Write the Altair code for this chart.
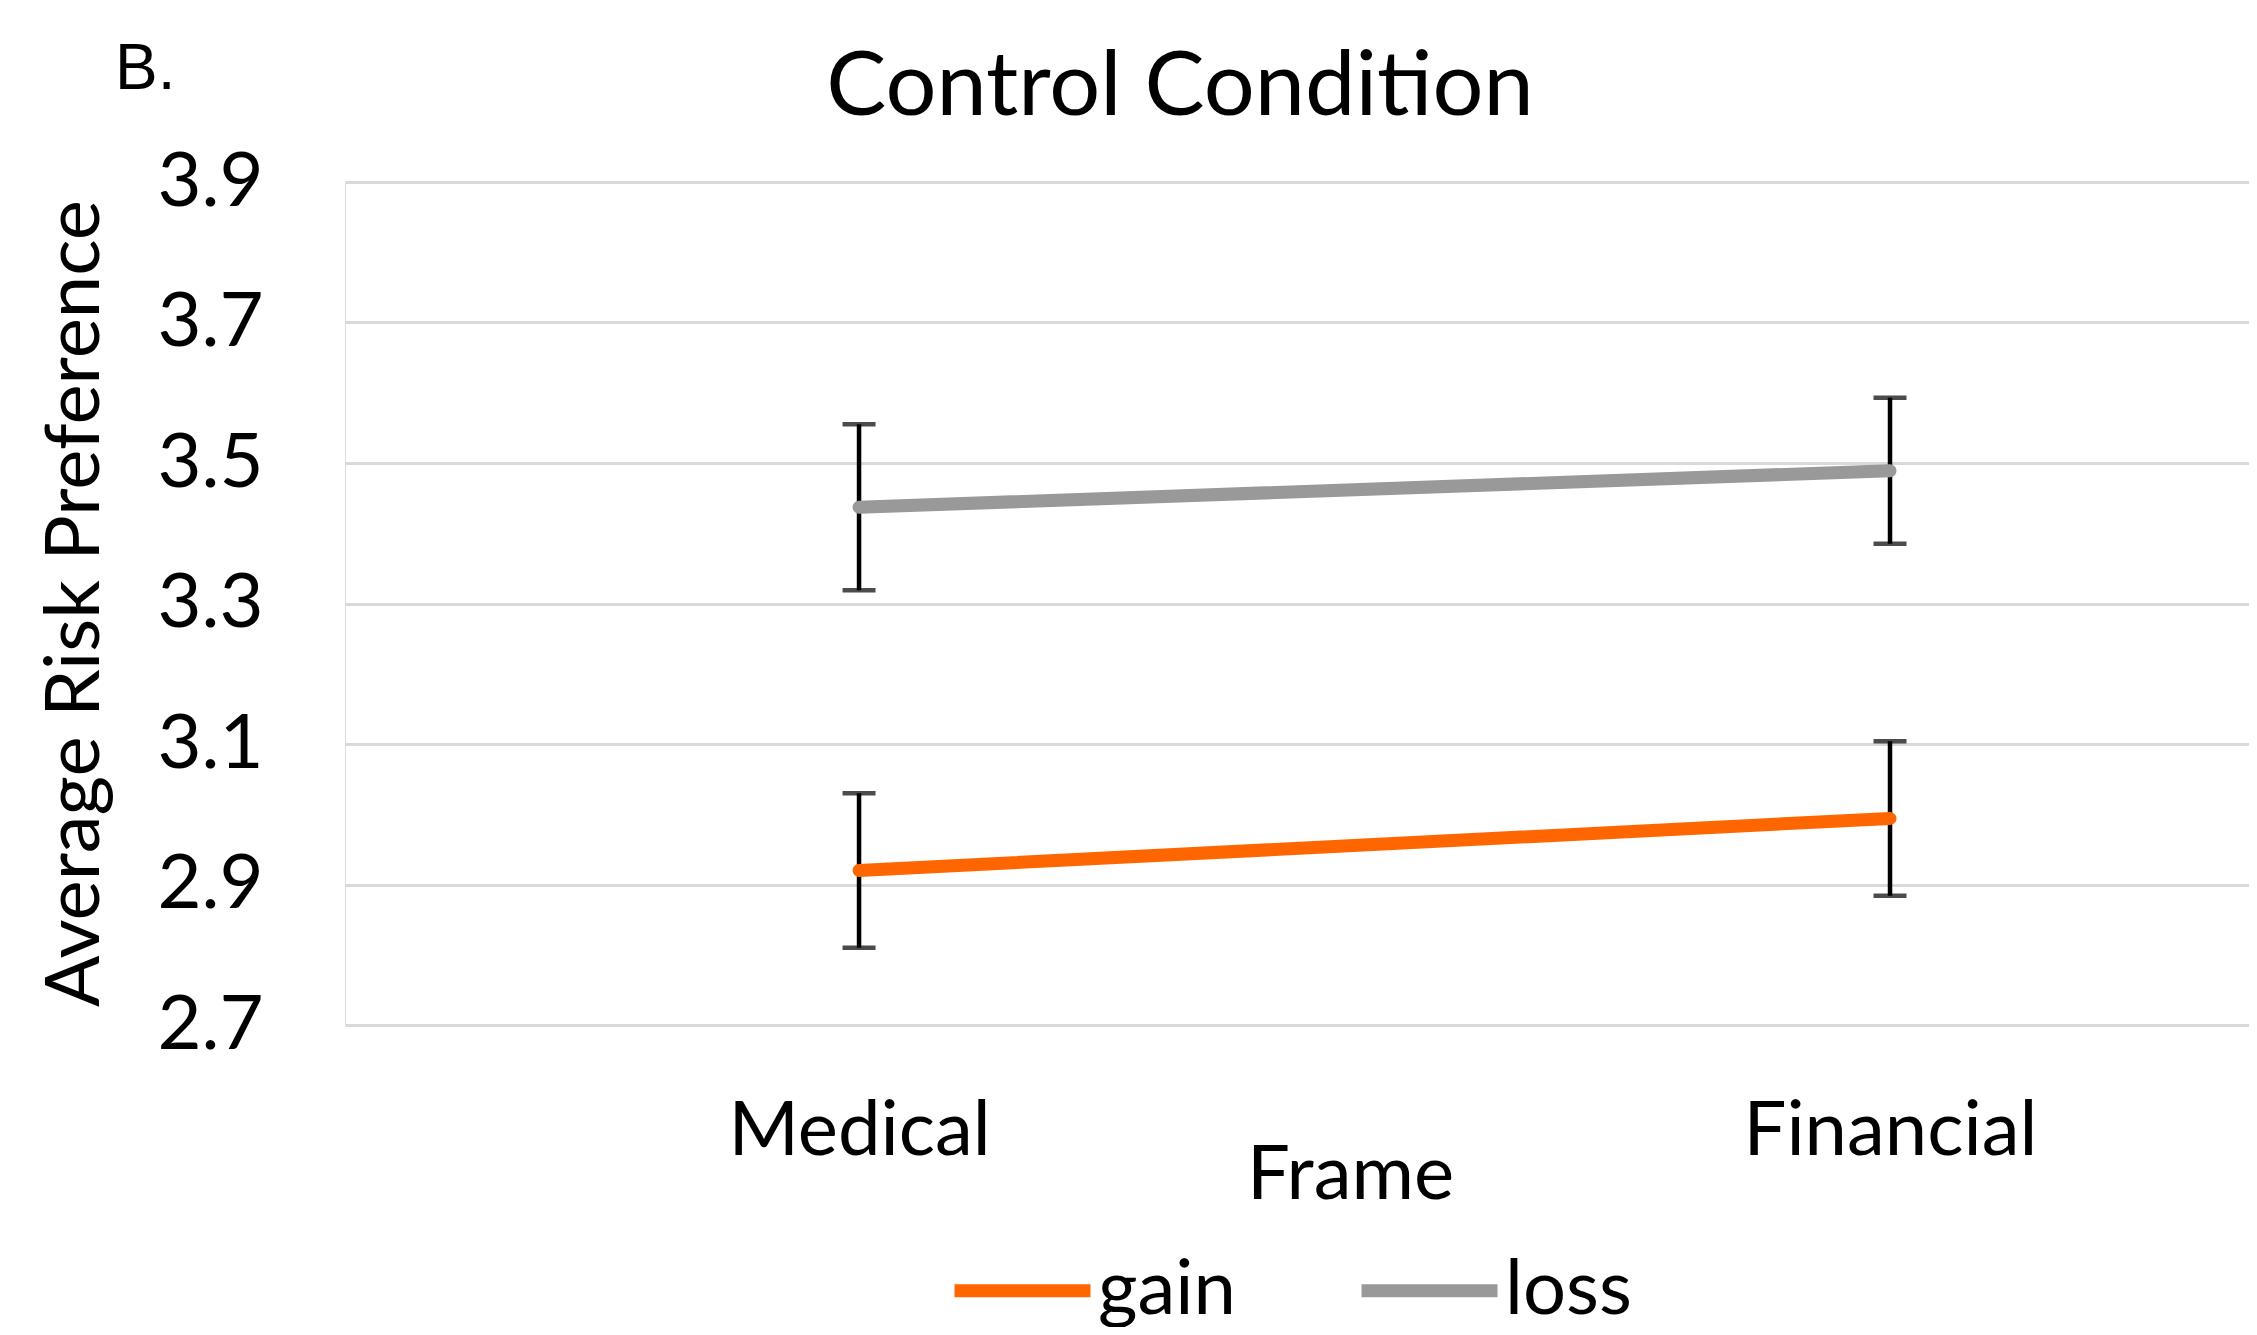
import altair as alt
import pandas as pd

# ---- data ----
frames = ["Medical", "Financial"]
conditions = ["gain", "loss"]
gain_means = [2.92, 2.994]
gain_errs = [0.11, 0.11]
loss_means = [3.437, 3.489]
loss_errs = [0.118, 0.104]
y_ticks = [2.7, 2.9, 3.1, 3.3, 3.5, 3.7, 3.9]
colors = ["#FF6600", "#999999"]
title_text = ["Control Condition"]
panel_text = ["B."]

rows = []
for cond, means, errs in [("gain", gain_means, gain_errs), ("loss", loss_means, loss_errs)]:
    for f, m, e in zip(frames, means, errs):
        rows.append({"Frame": f, "Condition": cond, "mean": m, "lo": m - e, "hi": m + e})
df = pd.DataFrame(rows)

FONT = "Lato"
FS = 76
YTITLE = "Average Risk Preference"

x_enc = alt.X(
    "Frame:N",
    sort=frames,
    scale=alt.Scale(type="point", padding=0.4234, align=0.5888),
    axis=alt.Axis(
        title="Frame", labelFont=FONT, labelFontSize=FS, labelColor="black",
        labelPadding=129, labelBaseline="alphabetic", labelAngle=0, labelLimit=500,
        ticks=False, tickSize=0, domain=False, grid=False,
        titleFont=FONT, titleFontSize=FS, titleFontWeight="normal", titleColor="black",
        titleX=1005, titleY=173, titleBaseline="alphabetic", titleAlign="center",
    ),
)
y_scale = alt.Scale(domain=[2.7, 3.9], nice=False, zero=False)
y_axis = alt.Axis(
    values=y_ticks, format=".1f", labelFont=FONT, labelFontSize=FS, labelColor="black",
    labelPadding=82, ticks=False, tickSize=0, domain=False, grid=True,
    gridColor="#D9D9D9", gridWidth=3,
    titleFont=FONT, titleFontSize=FS, titleFontWeight="normal", titleColor="black",
    titleX=-270, titleY=421, titleAlign="center", titleBaseline="middle", titleLimit=1200,
)

base = alt.Chart(df)

err_rule = base.mark_rule(color="black", strokeWidth=4.5).encode(
    x=x_enc,
    y=alt.Y("lo:Q", scale=y_scale, axis=y_axis, title=YTITLE),
    y2="hi:Q",
)
cap_lo = base.mark_tick(color="black", orient="horizontal", size=33, thickness=4.5).encode(
    x=x_enc, y=alt.Y("lo:Q", scale=y_scale, axis=y_axis, title=YTITLE)
)
cap_hi = base.mark_tick(color="black", orient="horizontal", size=33, thickness=4.5).encode(
    x=x_enc, y=alt.Y("hi:Q", scale=y_scale, axis=y_axis, title=YTITLE)
)
lines = base.mark_line(strokeWidth=13, strokeCap="round").encode(
    x=x_enc,
    y=alt.Y("mean:Q", scale=y_scale, axis=y_axis, title=YTITLE),
    color=alt.Color(
        "Condition:N",
        scale=alt.Scale(domain=conditions, range=colors),
        legend=alt.Legend(
            title=None, orient="none", legendX=603, legendY=1034, direction="horizontal",
            symbolType="stroke", symbolSize=18496, symbolStrokeWidth=13,
            labelFont=FONT, labelFontSize=FS, labelColor="black", labelOffset=1,
            columnPadding=99, labelLimit=400,
        ),
    ),
)

panel_label = alt.Chart(pd.DataFrame({"t": panel_text})).mark_text(
    font="Liberation Sans", fontSize=64, align="left", baseline="alphabetic", color="black"
).encode(text="t:N", x=alt.value(-230), y=alt.value(-93))

title_mark = alt.Chart(pd.DataFrame({"t": title_text})).mark_text(
    font=FONT, fontSize=90, align="center", baseline="alphabetic", color="black"
).encode(text="t:N", x=alt.value(835), y=alt.value(-67))

chart = (
    alt.layer(err_rule, cap_lo, cap_hi, lines, panel_label, title_mark)
    .properties(
        width=1904,
        height=843,
        autosize=alt.AutoSizeParams(type="none"),
        padding={"left": 337, "top": 174, "right": 0, "bottom": 302},
    )
    .configure_view(strokeWidth=0, stroke="transparent")
    .configure(background="white")
)

chart.save("out.html", embed_options={"renderer": "svg", "actions": False})
